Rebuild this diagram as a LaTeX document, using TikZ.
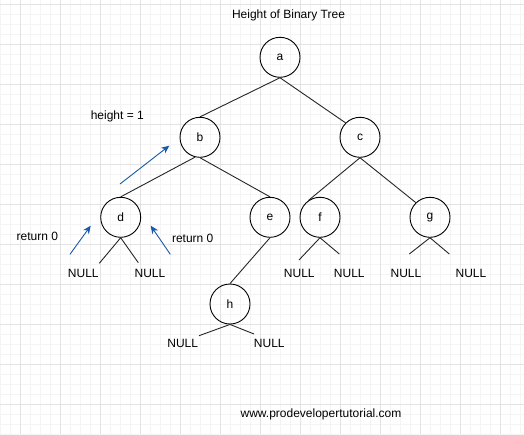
\documentclass[tikz,border=0pt]{standalone}
\usepackage{fontspec}
\setmainfont{Liberation Sans}
\usetikzlibrary{arrows.meta}
\definecolor{gridminor}{HTML}{F4F4F4}
\definecolor{gridmajor}{HTML}{E3E3E3}
\definecolor{arrowblue}{HTML}{1A58A8}
\begin{document}
\begin{tikzpicture}[x=1pt,y=-1pt,
  treenode/.style={circle,draw=black,line width=0.9pt,minimum size=40pt,inner sep=0pt,font=\fontsize{12pt}{14pt}\selectfont},
  lbl/.style={inner sep=0pt,font=\fontsize{12pt}{14pt}\selectfont},
  edge/.style={draw=black!85,line width=0.9pt},
  blue arrow/.style={draw=arrowblue,line width=0.9pt,-{Stealth[length=8pt,width=7pt,inset=2.5pt]}}]
\useasboundingbox (0,0) rectangle (524,434);
\fill[white] (0,0) rectangle (524,434);
% grid
\foreach \x in {0,10,...,520} {\draw[gridminor,line width=0.8pt] (\x,0) -- (\x,434);}
\foreach \y in {4,14,...,434} {\draw[gridminor,line width=0.8pt] (0,\y) -- (524,\y);}
\foreach \x in {20,60,...,520} {\draw[gridmajor,line width=0.8pt] (\x,0) -- (\x,434);}
\foreach \y in {4,44,...,434} {\draw[gridmajor,line width=0.8pt] (0,\y) -- (524,\y);}

% title
\node[lbl] (title) at (288.5,15.7) {Height of Binary Tree};

% nodes
\node[treenode] (a) at (280,57.3) {a};
\node[treenode] (b) at (200,137.3) {b};
\node[treenode] (c) at (360,137.3) {c};
\node[treenode] (d) at (120.7,217.3) {d};
\node[treenode] (e) at (270,217.3) {e};
\node[treenode] (f) at (320,217.3) {f};
\node[treenode] (g) at (430,217.3) {g};
\node[treenode] (h) at (230,304) {h};

% edges
\draw[edge] (a.south) -- (b.north);
\draw[edge] (a.south) -- (c.135);
\draw[edge] (b.-104) -- (d.north);
\draw[edge] (b.south) -- (e.north);
\draw[edge] (c.south) -- (f.124);
\draw[edge] (c.south) -- (g.134);
\draw[edge] (e.south) -- (h.north);

% NULL ends
\coordinate (d1) at (99.3,263.3);
\coordinate (d2) at (138.3,262.7);
\coordinate (f1) at (299,260);
\coordinate (f2) at (339.3,254);
\coordinate (g1) at (409.3,254);
\coordinate (g2) at (449.3,254);
\coordinate (h1) at (199,335.7);
\coordinate (h2) at (254,334);
\draw[edge] (d1) -- (d.south) -- (d2);
\draw[edge] (f1) -- (f.south) -- (f2);
\draw[edge] (g1) -- (g.south) -- (g2);
\draw[edge] (h1) -- (h.south) -- (h2);

\node[lbl] (nd1) at (83.3,273.5) {NULL};
\node[lbl] (nd2) at (150,273.5) {NULL};
\node[lbl] (nf1) at (299.3,273.5) {NULL};
\node[lbl] (nf2) at (349.3,273.5) {NULL};
\node[lbl] (ng1) at (406,273.5) {NULL};
\node[lbl] (ng2) at (471,273.5) {NULL};
\node[lbl] (nh1) at (182.7,343.5) {NULL};
\node[lbl] (nh2) at (269.3,343.5) {NULL};

% labels
\node[lbl] (hgt) at (117.3,116.7) {height = 1};
\node[lbl] (r1) at (37.3,236) {return 0};
\node[lbl] (r2) at (192.7,238.7) {return 0};
\node[lbl] (url) at (321,414) {www.prodevelopertutorial.com};

% blue arrows
\coordinate (s1) at (120,184);
\coordinate (t1) at (169.3,145.7);
\coordinate (s2) at (70,254.3);
\coordinate (t2) at (90.7,225.7);
\coordinate (s3) at (170.3,254.3);
\coordinate (t3) at (150.7,225.7);
\draw[blue arrow] (s1) -- (t1);
\draw[blue arrow] (s2) -- (t2);
\draw[blue arrow] (s3) -- (t3);
\end{tikzpicture}
\end{document}
